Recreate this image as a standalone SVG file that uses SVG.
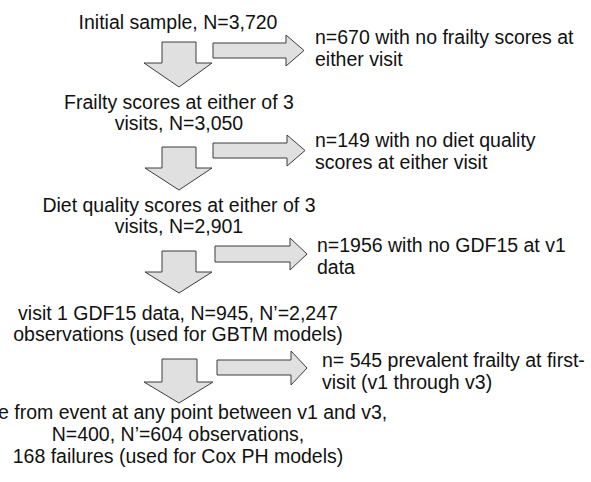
<svg xmlns="http://www.w3.org/2000/svg" width="591" height="482" viewBox="0 0 591 482">
  <style>
    .bg { fill: #ffffff; }
    .arrow { fill: #e0e0e0; stroke: #3c3c3c; stroke-width: 1; stroke-linejoin: miter; }
    text { font-family: "Liberation Sans", Arial, sans-serif; font-size: 19.5px; fill: #111111; }
    .c { text-anchor: middle; }
    .l { text-anchor: start; }
  </style>
  <rect class="bg" x="0" y="0" width="591" height="482"/>

  <!-- flow stages (main column) -->
  <g id="stage1">
    <text class="c" x="178" y="29">Initial sample, N=3,720</text>
  </g>
  <g id="stage2">
    <text class="c" x="179" y="109">Frailty scores at either of 3</text>
    <text class="c" x="179" y="130">visits, N=3,050</text>
  </g>
  <g id="stage3">
    <text class="c" x="179" y="212">Diet quality scores at either of 3</text>
    <text class="c" x="179" y="233">visits, N=2,901</text>
  </g>
  <g id="stage4">
    <text class="c" x="178" y="320">visit 1 GDF15 data, N=945, N’=2,247</text>
    <text class="c" x="178" y="341">observations (used for GBTM models)</text>
  </g>
  <g id="stage5">
    <text class="l" x="-2" y="419">e from event at any point between v1 and v3,</text>
    <text class="c" x="178" y="441">N=400, N’=604 observations,</text>
    <text class="c" x="178" y="463">168 failures (used for Cox PH models)</text>
  </g>

  <!-- exclusions (right column) -->
  <g id="excl1">
    <text class="l" x="315" y="44">n=670 with no frailty scores at</text>
    <text class="l" x="315" y="66">either visit</text>
  </g>
  <g id="excl2">
    <text class="l" x="315" y="147">n=149 with no diet quality</text>
    <text class="l" x="315" y="169">scores at either visit</text>
  </g>
  <g id="excl3">
    <text class="l" x="317" y="252">n=1956 with no GDF15 at v1</text>
    <text class="l" x="317" y="274">data</text>
  </g>
  <g id="excl4">
    <text class="l" x="322" y="367">n= 545 prevalent frailty at first-</text>
    <text class="l" x="322" y="389">visit (v1 through v3)</text>
  </g>

  <!-- block arrows -->
  <g id="connectors">
    <!-- downward arrows -->
    <polygon class="arrow" points="162,42 196,42 196,63 212,63 179,87 144,63 162,63"/>
    <polygon class="arrow" points="162,147 196,147 196,168 212,168 179,190 145,168 162,168"/>
    <polygon class="arrow" points="162,251 196,251 196,272 212,272 179,293 145,272 162,272"/>
    <polygon class="arrow" points="162,359 197,359 197,382 213,382 179,403 144,382 162,382"/>
    <!-- rightward arrows -->
    <polygon class="arrow" points="213,43 286,43 286,35 304,50.5 286,66 286,58 213,58"/>
    <polygon class="arrow" points="213,143 287,143 287,135 305,150.5 287,166 287,158 213,158"/>
    <polygon class="arrow" points="215,246 290,246 290,238 307,254 290,270 290,262 215,262"/>
    <polygon class="arrow" points="217,360 291,360 291,351 307,368 291,385 291,375 217,375"/>
  </g>
</svg>
